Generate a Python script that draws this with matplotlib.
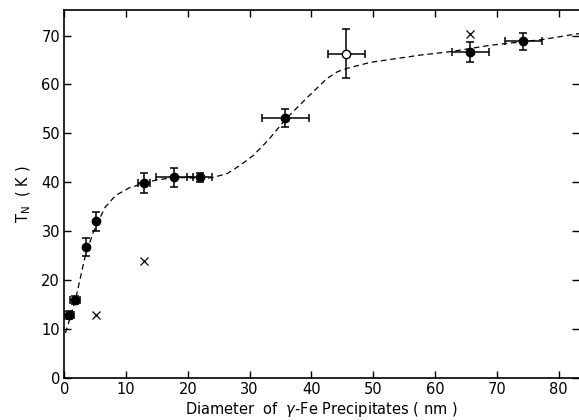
import matplotlib
matplotlib.use("Agg")
import matplotlib.pyplot as plt

# ---- values -----------------------------------------------------------------
# filled points: diameter (nm), T_N (K), errors
d_filled = [0.8, 1.8, 3.5, 5.2, 12.9, 17.8, 21.9, 35.8, 65.7, 74.3]
tn_filled = [12.8, 16.0, 26.8, 32.0, 39.8, 41.0, 41.0, 53.2, 66.6, 68.8]
tn_err = [0.8, 0.8, 1.8, 2.0, 2.0, 2.0, 1.0, 1.8, 2.0, 1.8]
d_err = [0.8, 0.8, 0.0, 0.0, 1.0, 3.0, 2.0, 3.8, 3.0, 3.0]

# open point
d_open = [45.6]
tn_open = [66.3]
tn_open_err = [5.0]
d_open_err = [3.0]

# crosses
d_cross = [5.2, 12.9, 65.7]
tn_cross = [12.8, 24.0, 70.4]

# dashed guide curve, traced point by point
curve_d = [0.2, 1.8, 3.4, 4.7, 6.6, 8.3, 10.4, 12.8, 15.0, 18.0, 20.5, 22.8,
           24.1, 26.4, 28.5, 30.6, 33.0, 35.9, 39.3, 42.5, 44.2, 45.8, 49.5,
           57.6, 62.5, 68.9, 77.5, 83.3]
curve_tn = [9.2, 15.9, 25.0, 29.8, 34.9, 37.3, 38.8, 39.8, 40.5, 41.0, 40.9,
            40.8, 41.0, 41.8, 43.5, 45.5, 48.6, 53.0, 57.3, 61.2, 62.6, 63.3,
            64.5, 66.0, 66.7, 68.0, 69.2, 70.4]

x_ticks = [0, 10, 20, 30, 40, 50, 60, 70, 80]
y_ticks = [0, 10, 20, 30, 40, 50, 60, 70]
# -----------------------------------------------------------------------------

plt.rcParams["font.family"] = ["DejaVu Sans"]

fig = plt.figure(figsize=(5.79, 4.20), dpi=100)
ax = fig.add_axes([0.111, 0.1, 0.889, 0.876])

ax.plot(curve_d, curve_tn, color="black", linestyle=(0, (4.5, 3)),
        linewidth=0.9)

ax.errorbar(d_filled, tn_filled, yerr=tn_err, xerr=d_err, fmt="o",
            color="black", markersize=6, elinewidth=1.1, capsize=3,
            capthick=1.1)
ax.errorbar(d_open, tn_open, yerr=tn_open_err, xerr=d_open_err, fmt="o",
            color="black", markerfacecolor="white", markersize=6,
            elinewidth=1.1, capsize=3, capthick=1.1)
ax.plot(d_cross, tn_cross, "x", color="black", markersize=6, mew=0.9)

ax.set_xlim(0, 83.3)
ax.set_ylim(0, 75.2)
ax.set_xticks(x_ticks)
ax.set_yticks(y_ticks)
ax.tick_params(direction="in", length=5, width=1, labelsize=10.5,
               top=True, right=True, pad=3)
ax.spines["right"].set_visible(False)
for s in ("left", "bottom", "top"):
    ax.spines[s].set_linewidth(1.2)

ax.set_xlabel(r"Diameter  of  $\gamma$-Fe Precipitates ( nm )", fontsize=10.5,
              labelpad=2)
ax.set_ylabel(r"T$_\mathrm{N}$  ( K )", fontsize=10.5, labelpad=6)

fig.savefig("out.png", dpi=100)
